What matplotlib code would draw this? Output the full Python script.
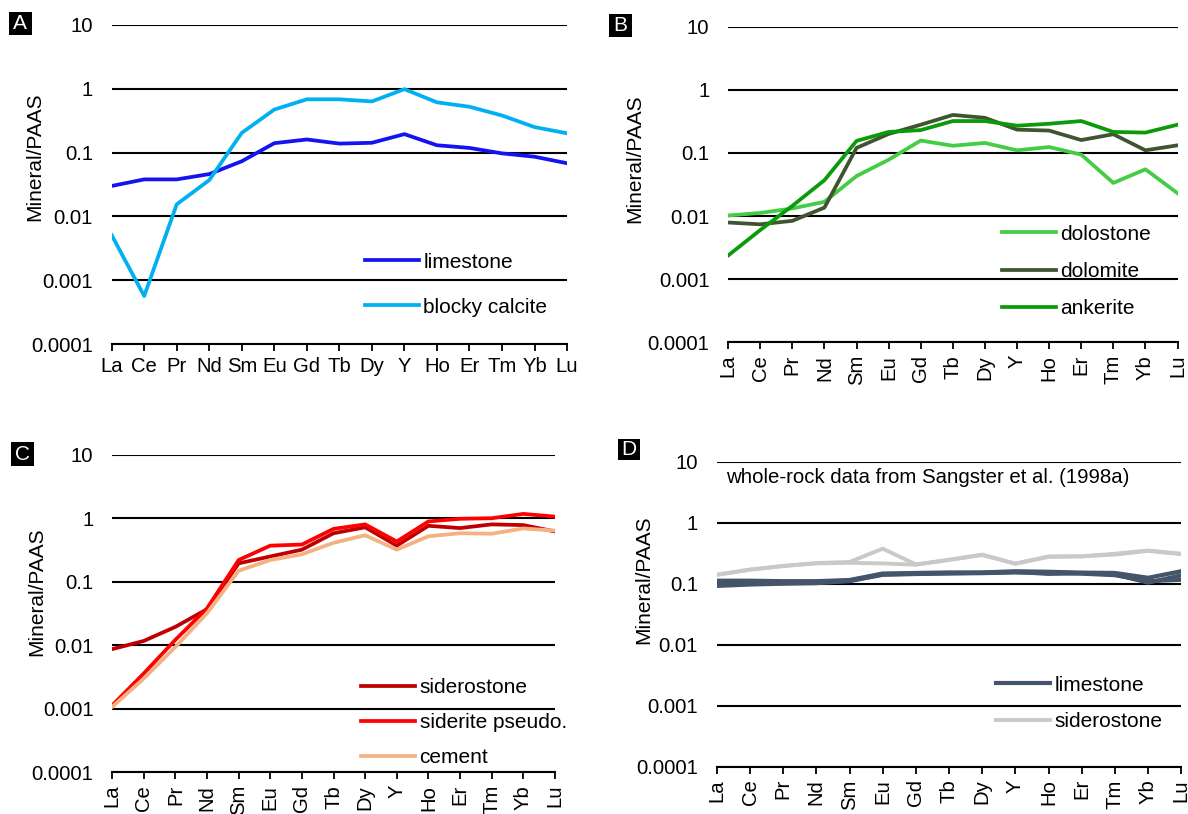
import matplotlib
matplotlib.use('Agg')
import matplotlib.pyplot as plt
from matplotlib.patches import Rectangle

plt.rcParams['font.family'] = ['Liberation Sans', 'DejaVu Sans']

# REE sequence (Y placed between Dy and Ho)
REE = ['La', 'Ce', 'Pr', 'Nd', 'Sm', 'Eu', 'Gd', 'Tb', 'Dy', 'Y', 'Ho', 'Er', 'Tm', 'Yb', 'Lu']

Y_TICKS = [0.0001, 0.001, 0.01, 0.1, 1, 10]
Y_TICK_LABELS = ['0.0001', '0.001', '0.01', '0.1', '1', '10']

# Panel A - calcite
a_limestone = [0.030, 0.038, 0.038, 0.046, 0.073, 0.14, 0.16, 0.138, 0.142, 0.194, 0.13, 0.118, 0.097, 0.086, 0.068]
a_blocky_calcite = [0.0051, 0.00057, 0.0155, 0.037, 0.203, 0.47, 0.68, 0.68, 0.63, 0.98, 0.61, 0.52, 0.38, 0.25, 0.20]

# Panel B - dolomite / ankerite
b_dolostone = [0.0102, 0.0112, 0.0132, 0.0168, 0.043, 0.078, 0.157, 0.13, 0.144, 0.11, 0.124, 0.094, 0.0335, 0.055, 0.023]
b_dolomite = [0.0079, 0.0074, 0.0084, 0.0136, 0.12, 0.20, 0.28, 0.40, 0.36, 0.234, 0.226, 0.16, 0.198, 0.11, 0.132]
b_ankerite = [0.00237, 0.006, 0.0145, 0.037, 0.155, 0.215, 0.23, 0.32, 0.32, 0.27, 0.29, 0.32, 0.215, 0.21, 0.28]

# Panel C - siderite
c_siderostone = [0.0087, 0.0117, 0.0195, 0.037, 0.195, 0.25, 0.32, 0.58, 0.72, 0.37, 0.76, 0.70, 0.80, 0.78, 0.62]
c_siderite_pseudo = [0.00113, 0.0036, 0.0122, 0.038, 0.22, 0.37, 0.385, 0.68, 0.80, 0.43, 0.89, 0.98, 1.0, 1.17, 1.06]
c_cement = [0.00107, 0.0030, 0.0094, 0.032, 0.149, 0.22, 0.27, 0.41, 0.54, 0.32, 0.52, 0.58, 0.57, 0.69, 0.64]

# Panel D - whole-rock samples (Sangster et al. 1998a)
d_limestone = [
    [0.112, 0.112, 0.110, 0.110, 0.115, 0.147, 0.150, 0.153, 0.153, 0.160, 0.157, 0.152, 0.150, 0.125, 0.160],
    [0.100, 0.104, 0.106, 0.107, 0.112, 0.142, 0.146, 0.149, 0.151, 0.156, 0.145, 0.150, 0.142, 0.104, 0.137],
    [0.092, 0.097, 0.100, 0.102, 0.110, 0.140, 0.144, 0.147, 0.149, 0.153, 0.150, 0.146, 0.138, 0.110, 0.116],
]
d_siderostone = [
    [0.140, 0.170, 0.195, 0.218, 0.227, 0.375, 0.207, 0.247, 0.300, 0.213, 0.280, 0.280, 0.310, 0.350, 0.310],
    [0.140, 0.170, 0.195, 0.215, 0.220, 0.215, 0.205, 0.245, 0.295, 0.213, 0.275, 0.282, 0.300, 0.345, 0.305],
]

FS = 15
TICK_FS = 14.6
LW = 2.7


def setup_panel(fig, rect, letter, box_px, ylabel_xy, rotate_x):
    ax = fig.add_axes(rect)
    ax.set_yscale('log')
    ax.set_ylim(0.0001, 10)
    ax.set_yticks(Y_TICKS)
    ax.set_yticklabels(Y_TICK_LABELS)
    ax.minorticks_off()
    ax.yaxis.grid(True, color='black', linewidth=1.5)
    ax.set_axisbelow(True)
    for side in ('left', 'right', 'top'):
        ax.spines[side].set_visible(False)
    ax.spines['bottom'].set_linewidth(1.5)
    ax.tick_params(axis='y', length=0, pad=13.5, labelsize=TICK_FS)
    ax.tick_params(axis='x', length=5, width=1.3, direction='out', labelsize=TICK_FS,
                   pad=4, labelrotation=90 if rotate_x else 0)
    ax.set_ylabel('Mineral/PAAS', fontsize=15)
    ax.yaxis.set_label_coords(*ylabel_xy)

    # panel letter in black square
    W, H = 1188, 814
    x0, y0, w, h = box_px
    fig.patches.append(Rectangle((x0 / W, 1 - (y0 + h) / H), w / W, h / H,
                                 transform=fig.transFigure, facecolor='black', edgecolor='none'))
    fig.text((x0 + w / 2) / W, 1 - (y0 + h / 2) / H, letter, color='white',
             fontsize=15, ha='center', va='center')
    return ax


def finish(ax, anchor, spacing):
    ax.set_xlim(0, len(REE) - 1)
    ax.legend(loc='center left', bbox_to_anchor=anchor, frameon=False, fontsize=FS,
              borderpad=0, borderaxespad=0, handlelength=2.6, handletextpad=0.2,
              labelspacing=spacing)


fig = plt.figure(figsize=(11.88, 8.14), dpi=100)

# A
ax = setup_panel(fig, [0.0940, 0.577, 0.3833, 0.3927], 'A', (9, 12, 22.5, 22.5), (-0.148, 0.587), False)
ax.plot(REE, a_limestone, color='#1414F0', linewidth=LW, label='limestone')
ax.plot(REE, a_blocky_calcite, color='#00B0F0', linewidth=LW, label='blocky calcite')
finish(ax, (0.556, 0.187), 1.25)

# B
ax = setup_panel(fig, [0.6129, 0.5795, 0.3783, 0.3877], 'B', (609, 14, 23, 23), (-0.187, 0.582), True)
ax.plot(REE, b_dolostone, color='#44CC44', linewidth=LW, label='dolostone')
ax.plot(REE, b_dolomite, color='#3E5530', linewidth=LW, label='dolomite')
ax.plot(REE, b_ankerite, color='#0A9A0A', linewidth=LW, label='ankerite')
finish(ax, (0.610, 0.224), 0.88)

# C
ax = setup_panel(fig, [0.0944, 0.0512, 0.3727, 0.3902], 'C', (11, 442, 22.5, 24), (-0.1495, 0.568), True)
ax.plot(REE, c_siderostone, color='#C00000', linewidth=LW, label='siderostone')
ax.plot(REE, c_siderite_pseudo, color='#FF0000', linewidth=LW, label='siderite pseudo.')
ax.plot(REE, c_cement, color='#F4B183', linewidth=LW, label='cement')
finish(ax, (0.5626, 0.1565), 0.76)

# D
ax = setup_panel(fig, [0.6034, 0.0581, 0.3909, 0.3747], 'D', (618, 439, 22, 21), (-0.138, 0.612), True)
for i, vals in enumerate(d_limestone):
    ax.plot(REE, vals, color='#44546A', linewidth=3.0, label='limestone' if i == 0 else '_nolegend_', zorder=3)
for i, vals in enumerate(d_siderostone):
    ax.plot(REE, vals, color='#C9C9C9', linewidth=2.8, label='siderostone' if i == 0 else '_nolegend_', zorder=2)
ax.text(0.019, 0.947, 'whole-rock data from Sangster et al. (1998a)', transform=ax.transAxes,
        fontsize=14.7, ha='left', va='center')
finish(ax, (0.601, 0.208), 0.83)

fig.savefig('out.png', dpi=100)
